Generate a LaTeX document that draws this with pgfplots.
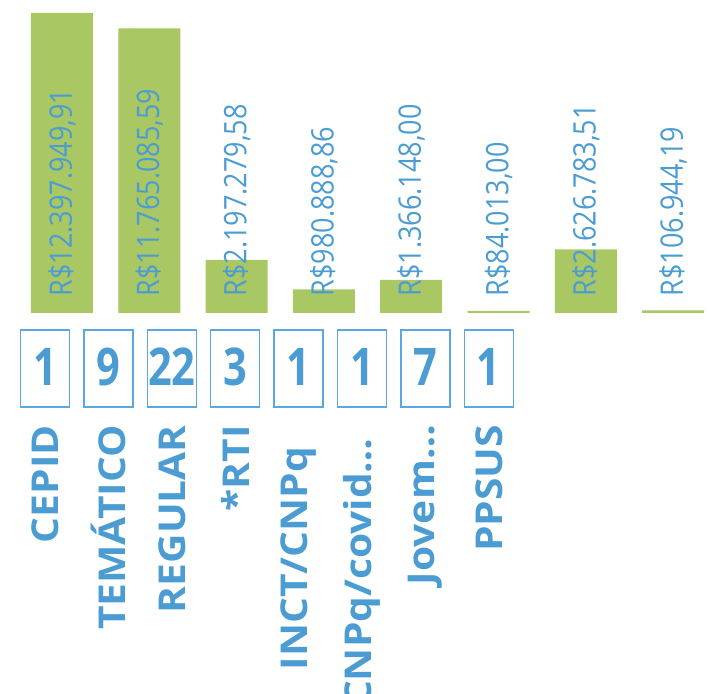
\documentclass[border=0pt]{standalone}
\usepackage{fontspec}
\setmainfont{Open Sans}
\usepackage{graphicx}
\usepackage{pgfplots}
\pgfplotsset{compat=1.18}

\definecolor{barGreen}{HTML}{A9C763}
\definecolor{txtBlue}{HTML}{4B9CD3}
\definecolor{boxBlue}{HTML}{5BA7DF}
\newcommand\sq[1]{\scalebox{0.8}[1]{#1}}   % counts in boxes
\newcommand\vl[1]{\scalebox{0.87}[1]{#1}}  % amounts
\newcommand\cl[1]{\scalebox{1.1}[1]{#1}}   % category names

\begin{document}
\begin{tikzpicture}
\useasboundingbox (0pt,0pt) rectangle (709pt,693pt);

% bars with the amounts
\begin{axis}[
  at={(35.8pt,380pt)}, anchor=south west,
  scale only axis, width=663.5pt, height=300pt,
  xmin=-0.3, xmax=7.3, ymin=0, ymax=12397949.91,
  hide axis, clip=false,
]
\addplot[ybar, bar width=62pt, bar shift=0pt, fill=barGreen, draw=none] coordinates {
(0,12397949.91) (1,11765085.59) (2,2197279.58) (3,980888.86)
(4,1366148.00) (5,84013.00) (6,2626783.51) (7,106944.19)
};
\addplot[only marks, mark=none, point meta=explicit symbolic,
  nodes near coords,
  nodes near coords style={rotate=90, anchor=west, inner sep=0pt, text=txtBlue,
    font=\fontsize{31}{31}\selectfont}] coordinates {
(0,680000) [\vl{R\$12.397.949,91}]
(1,680000) [\vl{R\$11.765.085,59}]
(2,680000) [\vl{R\$2.197.279,58}]
(3,680000) [\vl{R\$980.888,86}]
(4,680000) [\vl{R\$1.366.148,00}]
(5,680000) [\vl{R\$84.013,00}]
(6,680000) [\vl{R\$2.626.783,51}]
(7,680000) [\vl{R\$106.944,19}]
};
\end{axis}

% boxes with the counts and the category names
\begin{axis}[
  at={(13.3pt,286pt)}, anchor=south west,
  scale only axis, width=507.2pt, height=77pt,
  xmin=-0.5, xmax=7.5, ymin=0, ymax=1,
  clip=false,
  axis line style={draw=none}, tick style={draw=none},
  ytick=\empty,
  xtick={0,...,7},
  xticklabels={\cl{CEPID}, \cl{TEMÁTICO}, \cl{REGULAR}, \cl{*RTI}, \cl{INCT/CNPq\hspace*{20pt}}, \cl{CNPq/covid…\hspace*{12pt}}, \cl{Jovem…}, \cl{PPSUS}},
  xticklabel style={rotate=90, anchor=east, inner sep=0pt, text=txtBlue,
    font=\bfseries\fontsize{37}{37}\selectfont},
  xticklabel shift=18pt,
]
\addplot[ybar, bar width=49pt, bar shift=0pt, fill=white, draw=boxBlue, line width=1.5pt] coordinates {
(0,1) (1,1) (2,1) (3,1) (4,1) (5,1) (6,1) (7,1)
};
\addplot[only marks, mark=none, point meta=explicit symbolic,
  nodes near coords,
  nodes near coords style={anchor=center, inner sep=0pt, text=txtBlue,
    font=\bfseries\fontsize{52}{52}\selectfont}] coordinates {
(0,0.525) [\sq{1}]
(1,0.525) [\sq{9}]
(2,0.525) [\sq{22}]
(3,0.525) [\sq{3}]
(4,0.525) [\sq{1}]
(5,0.525) [\sq{1}]
(6,0.525) [\sq{7}]
(7,0.525) [\sq{1}]
};
\end{axis}
\end{tikzpicture}
\end{document}
